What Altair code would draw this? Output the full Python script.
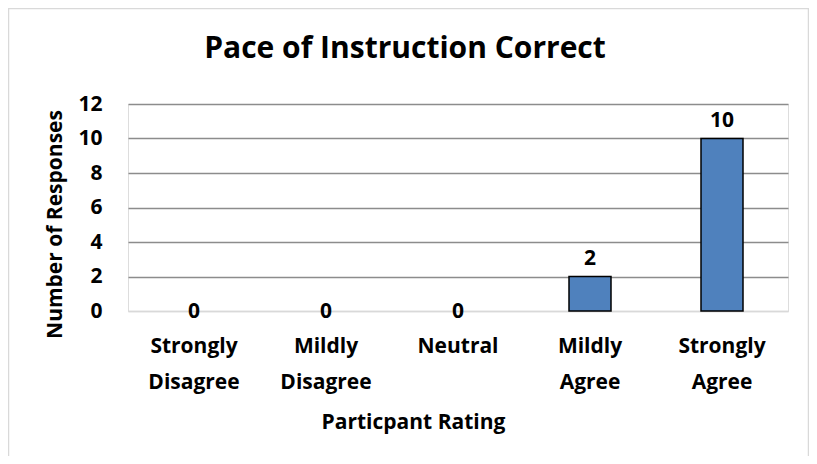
import altair as alt
import pandas as pd

categories = ["Strongly Disagree", "Mildly Disagree", "Neutral", "Mildly Agree", "Strongly Agree"]
responses = [0, 0, 0, 2, 10]
y_ticks = [0, 2, 4, 6, 8, 10, 12]

df = pd.DataFrame({"rating": categories, "count": responses})

FONT = "Open Sans"

base = alt.Chart(df)

x_enc = alt.X(
    "rating:N",
    sort=categories,
    scale=alt.Scale(paddingInner=0, paddingOuter=0),
    axis=alt.Axis(
        title="Particpant Rating",
        labelExpr="split(datum.label, ' ')",
        labelAngle=0,
        labelFont=FONT,
        labelFontSize=21,
        labelFontWeight="bold",
        labelColor="#000000",
        labelBaseline="alphabetic",
        labelPadding=41,
        labelLineHeight=36,
        ticks=False,
        domainColor="#d9d9d9",
        domainWidth=1.5,
        titleFont=FONT,
        titleFontSize=21,
        titleFontWeight="bold",
        titleColor="#000000",
        titleX=285,
        titleY=117,
        titleBaseline="alphabetic",
        titleAlign="center",
        titleAnchor="middle",
    ),
)

y_enc = alt.Y(
    "count:Q",
    scale=alt.Scale(domain=[0, 12], nice=False),
    axis=alt.Axis(
        values=y_ticks,
        title="Number of Responses",
        domain=False,
        ticks=False,
        labelOverlap=False,
        labelFont=FONT,
        labelFontSize=21,
        labelFontWeight="bold",
        labelColor="#000000",
        labelPadding=26,
        gridColor=alt.condition("datum.value == 0", alt.value("#d9d9d9"), alt.value("#8c8c8c")),
        gridWidth=1.3,
        titleFont=FONT,
        titleFontSize=21,
        titleFontWeight="bold",
        titleColor="#000000",
        titleAngle=-90,
        titleX=-73,
        titleY=120,
        titleBaseline="middle",
        titleAlign="center",
    ),
)

border = base.mark_rect(
    fillOpacity=0, stroke="#d9d9d9", strokeWidth=1.5, clip=False
).encode(
    x=alt.value(-119.5), x2=alt.value(680.5), y=alt.value(-95.5), y2=alt.value(420)
).transform_filter(alt.datum.rating == categories[0])

bars = base.mark_bar(
    size=42, color="#4f81bd", stroke="#000000", strokeWidth=1.5
).encode(x=x_enc, y=y_enc).transform_filter(alt.datum["count"] > 0)

labels_pos = base.mark_text(
    font=FONT, fontSize=21, fontWeight="bold", color="#000000",
    baseline="alphabetic", dy=-12
).encode(
    x=x_enc,
    y=y_enc,
    text="count:Q",
).transform_filter(alt.datum["count"] > 0)

labels_zero = base.mark_text(
    font=FONT, fontSize=21, fontWeight="bold", color="#000000",
    baseline="middle", dy=1
).encode(
    x=x_enc,
    y=y_enc,
    text="count:Q",
).transform_filter(alt.datum["count"] == 0)

chart = alt.layer(bars, border, labels_pos, labels_zero).properties(
    width=660,
    height=207,
    autosize=alt.AutoSizeParams(type="none"),
    padding={"left": 120, "top": 96, "right": 21, "bottom": 145},
    title=alt.TitleParams(
        "Pace of Instruction Correct",
        font=FONT,
        fontSize=30,
        fontWeight="bold",
        color="#000000",
        anchor="middle",
        frame="group",
        dx=-53,
        baseline="alphabetic",
        offset=-80,
    ),
).configure_view(stroke=None).configure(background="#ffffff")

chart.save("out.html", embed_options={"renderer": "svg", "actions": False})
